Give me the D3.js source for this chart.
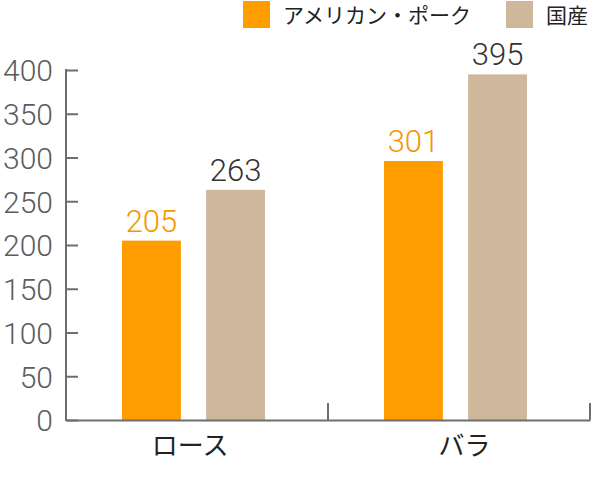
<!DOCTYPE html>
<html lang="ja">
  <head>
    <meta charset="utf-8">
    <title>アメリカン・ポーク / 国産</title>
    <style>
      body{ margin:0; background:#fff; }
      .tick text{ font-family: Roboto, sans-serif; font-weight: 300; }
    </style>
    <script src="https://cdn.jsdelivr.net/npm/d3@7/dist/d3.min.js"></script>
  </head>
  <body>
  <svg width="600" height="485"></svg>
    <script>
// data
var categories = ["ロース", "バラ"];
var series = ["アメリカン・ポーク", "国産"];
var american = [205, 296];          // bar heights as drawn
var americanLabels = ["205", "301"]; // printed values
var domestic = [263, 395];
var domesticLabels = ["263", "395"];
var yTicks = [0, 50, 100, 150, 200, 250, 300, 350, 400];

var colors = ["#ff9c00", "#cfb79b"];
var labelColors = ["#f39800", "#333333"];

var svg = d3.select("svg");
var axisColor = "#6e6e6e";

var xScale = d3.scaleBand().domain(categories).range([66, 590]);
var xSub = d3.scaleBand().domain(series).range([56, 199]).paddingInner(0.3);
var yScale = d3.scaleLinear().domain([0, 400]).range([420, 70]);

var rows = categories.map(function(c, i){
  return [
    {cat: c, s: series[0], v: american[i], label: americanLabels[i], k: 0},
    {cat: c, s: series[1], v: domestic[i], label: domesticLabels[i], k: 1}
  ];
});
var flat = d3.merge(rows);

//bars
svg.selectAll("rect.bar")
  .data(flat)
  .enter()
  .append("rect")
  .attr("class", "bar")
  .attr("x", function(d){ return xScale(d.cat) + xSub(d.s); })
  .attr("width", xSub.bandwidth())
  .attr("y", function(d){ return yScale(d.v); })
  .attr("height", function(d){ return yScale(0) - yScale(d.v); })
  .attr("fill", function(d){ return colors[d.k]; });

//value labels
svg.selectAll("text.val")
  .data(flat)
  .enter()
  .append("text")
  .attr("class", "val")
  .attr("x", function(d){ return xScale(d.cat) + xSub(d.s) + xSub.bandwidth()/2; })
  .attr("y", function(d){ return yScale(d.v) - 9; })
  .attr("text-anchor", "middle")
  .style("font-family", "Roboto, sans-serif")
  .style("font-weight", 300)
  .style("font-size", "31px")
  .attr("fill", function(d){ return labelColors[d.k]; })
  .text(function(d){ return d.label; });

//y axis
var yAxis = svg.append("g")
  .attr("transform", "translate(66,0)")
  .call(d3.axisLeft(yScale).tickValues(yTicks).tickSize(-12).tickPadding(13));
yAxis.select(".domain").remove();
yAxis.selectAll("line").attr("stroke", axisColor).attr("stroke-width", 2);
yAxis.selectAll("text")
  .attr("fill", "#5c5c5c")
  .style("font-size", "30px")
  .attr("dy", "0.36em");
yAxis.append("line")
  .attr("x1", 0).attr("x2", 0)
  .attr("y1", yScale(0) + 1).attr("y2", yScale(400) - 1)
  .attr("stroke", axisColor).attr("stroke-width", 2);

//x axis
var xAxis = svg.append("g")
  .attr("transform", "translate(0," + yScale(0) + ")")
  .call(d3.axisBottom(xScale).tickSize(0).tickFormat(""));
xAxis.select(".domain").attr("stroke", axisColor).attr("stroke-width", 2);

svg.selectAll("line.sep")
  .data(categories)
  .enter()
  .append("line")
  .attr("class", "sep")
  .attr("x1", function(d){ return xScale(d) + xScale.bandwidth(); })
  .attr("x2", function(d){ return xScale(d) + xScale.bandwidth(); })
  .attr("y1", yScale(0))
  .attr("y2", yScale(0) - 17)
  .attr("stroke", axisColor)
  .attr("stroke-width", 2);

//category labels
svg.selectAll("text.cat")
  .data(categories)
  .enter()
  .append("text")
  .attr("class", "cat")
  .attr("x", function(d){ return xScale(d) + xScale.bandwidth() * 0.62; })
  .attr("y", 455)
  .attr("text-anchor", "end")
  .style("font-family", "'Noto Sans CJK JP', sans-serif")
  .style("font-size", "26px")
  .attr("fill", "#222")
  .text(function(d){ return d; });

//legend
var legendX = [243, 506];
var leg = svg.selectAll("g.leg")
  .data(series)
  .enter()
  .append("g")
  .attr("class", "leg")
  .attr("transform", function(d, i){ return "translate(" + legendX[i] + ",1)"; });
leg.append("rect")
  .attr("width", 27)
  .attr("height", 27)
  .attr("fill", function(d, i){ return colors[i]; });
leg.append("text")
  .attr("x", 40)
  .attr("y", 14)
  .attr("dy", "0.36em")
  .style("font-family", "'Noto Sans CJK JP', sans-serif")
  .style("font-size", "21px")
  .attr("fill", "#222")
  .text(function(d){ return d; });
    </script>
  </body>
</html>
